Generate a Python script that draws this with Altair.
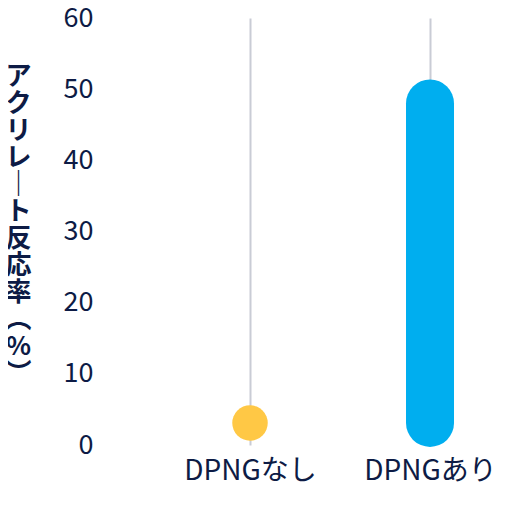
import pandas as pd
import altair as alt

categories = ["DPNGなし", "DPNGあり"]
starts = [3.1, 3.1]
ends = [3.1, 48.0]
colors = ["#FFC845", "#00AEEF"]

# vertical (tategaki) title, one glyph per line
y_title = ["ア", "ク", "リ", "レ", "｜", "ト", "反", "応", "率", "︵", "%", "︶"]

NAVY = "#0d1b45"
FONT = "Noto Sans CJK JP"

df = pd.DataFrame({"group": categories, "start": starts, "end": ends, "color": colors})

x = alt.X(
    "group:N",
    sort=categories,
    scale=alt.Scale(type="point", padding=0.5833, align=0.6667),
    axis=alt.Axis(
        title=None, labelAngle=0, labelFontSize=28, labelPadding=12,
        domain=False, ticks=False, grid=True, gridColor="#c9ccd5", gridWidth=2,
        labelColor=NAVY, labelFont=FONT,
    ),
)
y = alt.Y(
    "start:Q",
    scale=alt.Scale(domain=[0, 60], nice=False),
    axis=alt.Axis(
        title=y_title, values=[0, 10, 20, 30, 40, 50, 60],
        grid=False, domain=False, ticks=False, labelFontSize=27, labelPadding=17,
        labelColor=NAVY, labelFont=FONT, titleFont=FONT, titleFontSize=26,
        titleFontWeight="bold", titleColor=NAVY, titleAngle=0,
        titleAlign="center", titleBaseline="middle", titleLineHeight=27,
        titleX=-92, titleY=58,
    ),
)

base = alt.Chart(df).encode(x=x)

bar = base.transform_filter(alt.datum.group == categories[1]).mark_rule(
    strokeWidth=48, strokeCap="round"
).encode(y=y, y2="end:Q", color=alt.Color("color:N", scale=None))

dot = base.transform_filter(alt.datum.group == categories[0]).mark_circle(
    size=1260, opacity=1
).encode(y=y, color=alt.Color("color:N", scale=None))

chart = alt.layer(bar, dot).properties(
    width=390, height=427,
    autosize=alt.AutoSizeParams(type="none"),
    padding={"top": 10, "left": 102, "right": 4, "bottom": 50},
).configure_view(stroke=None)

chart.save("out.html", embed_options={"renderer": "svg", "actions": False})
